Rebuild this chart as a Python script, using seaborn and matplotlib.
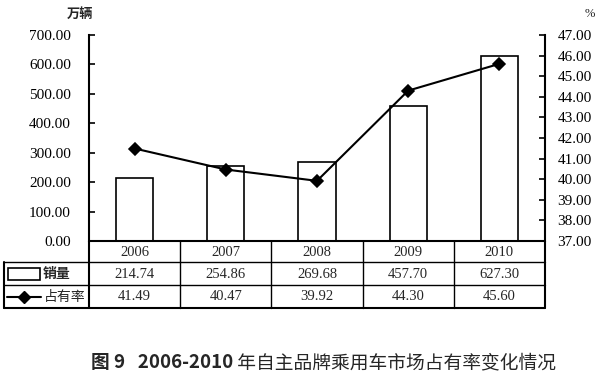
import numpy as np
import pandas as pd
import seaborn as sns
import matplotlib.pyplot as plt
from matplotlib.lines import Line2D
from matplotlib.patches import Rectangle

years = ['2006', '2007', '2008', '2009', '2010']
sales = [214.74, 254.86, 269.68, 457.70, 627.30]
share = [41.49, 40.47, 39.92, 44.30, 45.60]
sales_labels = ['214.74', '254.86', '269.68', '457.70', '627.30']
share_labels = ['41.49', '40.47', '39.92', '44.30', '45.60']

sns.set_theme(style='white')
plt.rcParams['font.family'] = ['Liberation Serif', 'Noto Sans CJK SC', 'DejaVu Sans']
cjk = ['Noto Sans CJK SC', 'DejaVu Sans']

W, H = 600, 374
fig = plt.figure(figsize=(6, 3.74), dpi=100)
ax = fig.add_axes([89 / W, 1 - 241 / H, (545 - 89) / W, (241 - 35) / H])

df = pd.DataFrame({'year': years, 'sales': sales, 'share': share})
sns.barplot(data=df, x='year', y='sales', ax=ax, color='white', edgecolor='black',
            linewidth=1.2, width=0.41, saturation=1)
ax.set_xlim(-0.5, 4.5)
ax.set_ylim(0, 700)
ax.set_yticks(np.arange(0, 701, 100))
ax.set_yticklabels(['%.2f' % v for v in np.arange(0, 701, 100)])
ax.set_xticks([])
ax.set_xlabel('')
ax.set_ylabel('')

ax2 = ax.twinx()
sns.pointplot(data=df, x='year', y='share', ax=ax2, color='black', markers='D',
              markersize=6.5, linewidth=1.5)
ax2.set_xlim(-0.5, 4.5)
ax2.set_ylim(37, 47)
ax2.set_yticks(np.arange(37, 47.1, 1))
ax2.set_yticklabels(['%.2f' % v for v in np.arange(37, 47.1, 1)])
ax2.set_xticks([])
ax2.set_xlabel('')
ax2.set_ylabel('')

for a in (ax, ax2):
    for s in a.spines.values():
        s.set_visible(False)
ax.spines['left'].set_visible(True)
ax.spines['left'].set_linewidth(1.5)
ax.spines['left'].set_color('black')
ax2.spines['right'].set_visible(True)
ax2.spines['right'].set_linewidth(1.5)
ax2.spines['right'].set_color('black')
ax.tick_params(axis='y', direction='in', length=4, width=1.2, color='black',
               left=True, labelsize=11, pad=13, labelcolor='black')
ax2.tick_params(axis='y', direction='in', length=4, width=1.2, color='black',
                right=True, labelsize=11, pad=9, labelcolor='black')

fig.text(80 / W, 1 - 14 / H, '万辆', family=cjk, fontsize=9.5, fontweight='bold',
         ha='center', va='center')
fig.text(590 / W, 1 - 14 / H, '%', fontsize=9, ha='center', va='center')

# data table below the axes
pos = ax.get_position()
def fx(x):
    return pos.x0 + (x + 0.5) / 5 * pos.width

def fy(py):
    return 1 - py / H

rows = [241, 262, 285, 308]
left = 4 / W
right = fx(4.5)
for i, r in enumerate(rows):
    lw = 1.5 if i in (0, 3) else 1.0
    fig.add_artist(Line2D([left if i > 0 else fx(-0.5), right], [fy(r), fy(r)],
                          transform=fig.transFigure, color='black', lw=lw))
fig.add_artist(Line2D([left, left], [fy(262), fy(308)], transform=fig.transFigure,
                      color='black', lw=1.5))
for k in range(6):
    lw = 1.5 if k in (0, 5) else 1.0
    fig.add_artist(Line2D([fx(k - 0.5), fx(k - 0.5)], [fy(241), fy(308)],
                          transform=fig.transFigure, color='black', lw=lw))

for k in range(5):
    fig.text(fx(k), fy(252), years[k], fontsize=10.5, ha='center', va='center')
    fig.text(fx(k), fy(274), sales_labels[k], fontsize=10.5, ha='center', va='center')
    fig.text(fx(k), fy(297), share_labels[k], fontsize=10.5, ha='center', va='center')

fig.add_artist(Rectangle((8 / W, fy(280)), 32 / W, 12 / H, transform=fig.transFigure,
                         facecolor='white', edgecolor='black', lw=1.2))
fig.text(43 / W, fy(274), '销量', family=cjk, fontsize=10, fontweight='bold',
         ha='left', va='center')
fig.add_artist(Line2D([7 / W, 41 / W], [fy(297), fy(297)], transform=fig.transFigure,
                      color='black', lw=1.5))
fig.add_artist(Line2D([24 / W], [fy(297)], transform=fig.transFigure, color='black',
                      marker='D', markersize=6, lw=0))
fig.text(44 / W, fy(297), '占有率', family=cjk, fontsize=10, ha='left', va='center')

t1 = fig.text(91 / W, fy(363), '图 9   2006-2010', family=cjk,
              fontsize=13.5, fontweight='bold', ha='left', va='center')
ax.annotate(' 年自主品牌乘用车市场占有率变化情况', xy=(1, 0.5), xycoords=t1,
            family=cjk, fontsize=13.5, ha='left', va='center', annotation_clip=False)

fig.savefig('out.png', dpi=100)
